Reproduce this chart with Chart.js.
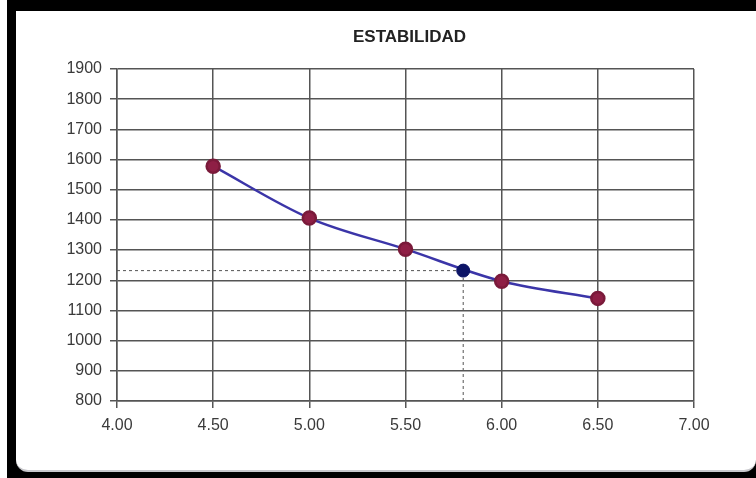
<!DOCTYPE html>
<html>
<head>
<meta charset="utf-8">
<script src="https://cdn.jsdelivr.net/npm/chart.js@4/dist/chart.umd.min.js"></script>
<style>
  html, body { margin: 0; padding: 0; background: #fff; }
  #frame { position: absolute; left: 7px; top: 0; width: 749px; height: 478px; background: #000; }
  #panel { position: absolute; left: 9px; top: 11px; right: 0; bottom: 6px; background: #fff;
           border-bottom-left-radius: 12px; border-bottom-right-radius: 12px;
           border-bottom: 2px solid #c8c8cc; box-sizing: border-box; }
  #wrap { position: absolute; left: 0; top: 0; width: 756px; height: 478px; }
</style>
</head>
<body>
<div id="frame"><div id="panel"></div></div>
<div id="wrap"><canvas id="chart" width="756" height="478"></canvas></div>
<script>
// Estabilidad vs. contenido
const titleText = 'ESTABILIDAD';
const estabX = [4.5, 5.0, 5.5, 6.0, 6.5];
const estabY = [1578, 1406, 1303, 1197, 1140];
// punto de lectura y lineas de referencia
const refX = 5.8;
const refY = 1232;
const xMin = 4, xMax = 7, xStep = 0.5;
const yMin = 800, yMax = 1900, yStep = 100;

const mainPoints = estabX.map((x, i) => ({ x: x, y: estabY[i] }));

const titlePlugin = {
  id: 'tituloPlugin',
  afterDraw(chart) {
    const { ctx, chartArea } = chart;
    ctx.save();
    ctx.font = 'bold 17px "Liberation Sans", Arial, sans-serif';
    ctx.fillStyle = '#222';
    ctx.textAlign = 'center';
    ctx.textBaseline = 'middle';
    ctx.fillText(titleText, (chartArea.left + chartArea.right) / 2 + 4, 37);
    ctx.restore();
  }
};

const tickFont = { family: '"Liberation Sans", Arial, sans-serif', size: 16 };

new Chart(document.getElementById('chart').getContext('2d'), {
  type: 'scatter',
  data: {
    datasets: [
      {
        label: 'lectura',
        data: [{ x: refX, y: refY }],
        pointRadius: 6.5,
        pointBackgroundColor: '#0c1466',
        pointBorderColor: '#0c1466',
        showLine: false,
        order: 0
      },
      {
        label: 'estabilidad',
        data: mainPoints,
        showLine: true,
        cubicInterpolationMode: 'monotone',
        borderColor: '#3b35a8',
        borderWidth: 2.5,
        pointRadius: 6.5,
        pointBackgroundColor: '#8e1f45',
        pointBorderColor: '#7a1a3a',
        order: 1
      },
      {
        label: 'ref-h',
        data: [{ x: xMin, y: refY }, { x: refX, y: refY }],
        showLine: true,
        borderColor: '#555',
        borderWidth: 1,
        borderDash: [3, 3],
        pointRadius: 0,
        order: 2
      },
      {
        label: 'ref-v',
        data: [{ x: refX, y: yMin }, { x: refX, y: refY }],
        showLine: true,
        borderColor: '#555',
        borderWidth: 1,
        borderDash: [3, 3],
        pointRadius: 0,
        order: 2
      }
    ]
  },
  options: {
    responsive: false,
    animation: false,
    layout: { padding: { top: 69, right: 62, bottom: 0, left: 0 } },
    plugins: {
      legend: { display: false },
      title: { display: false },
      tooltip: { enabled: false }
    },
    scales: {
      x: {
        type: 'linear',
        min: xMin,
        max: xMax,
        afterFit(scale) { scale.height = 77; },
        ticks: {
          stepSize: xStep,
          padding: 8,
          color: '#3a3a3a',
          font: tickFont,
          callback: v => Number(v).toFixed(2)
        },
        grid: { color: '#555', lineWidth: 1.5, tickLength: 7 },
        border: { color: '#555', width: 1.5 }
      },
      y: {
        min: yMin,
        max: yMax,
        afterFit(scale) { scale.width = 117; },
        ticks: {
          stepSize: yStep,
          padding: 8,
          color: '#3a3a3a',
          font: tickFont,
          callback: v => String(v)
        },
        grid: { color: '#555', lineWidth: 1.5, tickLength: 7 },
        border: { color: '#555', width: 1.5 }
      }
    }
  },
  plugins: [titlePlugin]
});
</script>
</body>
</html>
